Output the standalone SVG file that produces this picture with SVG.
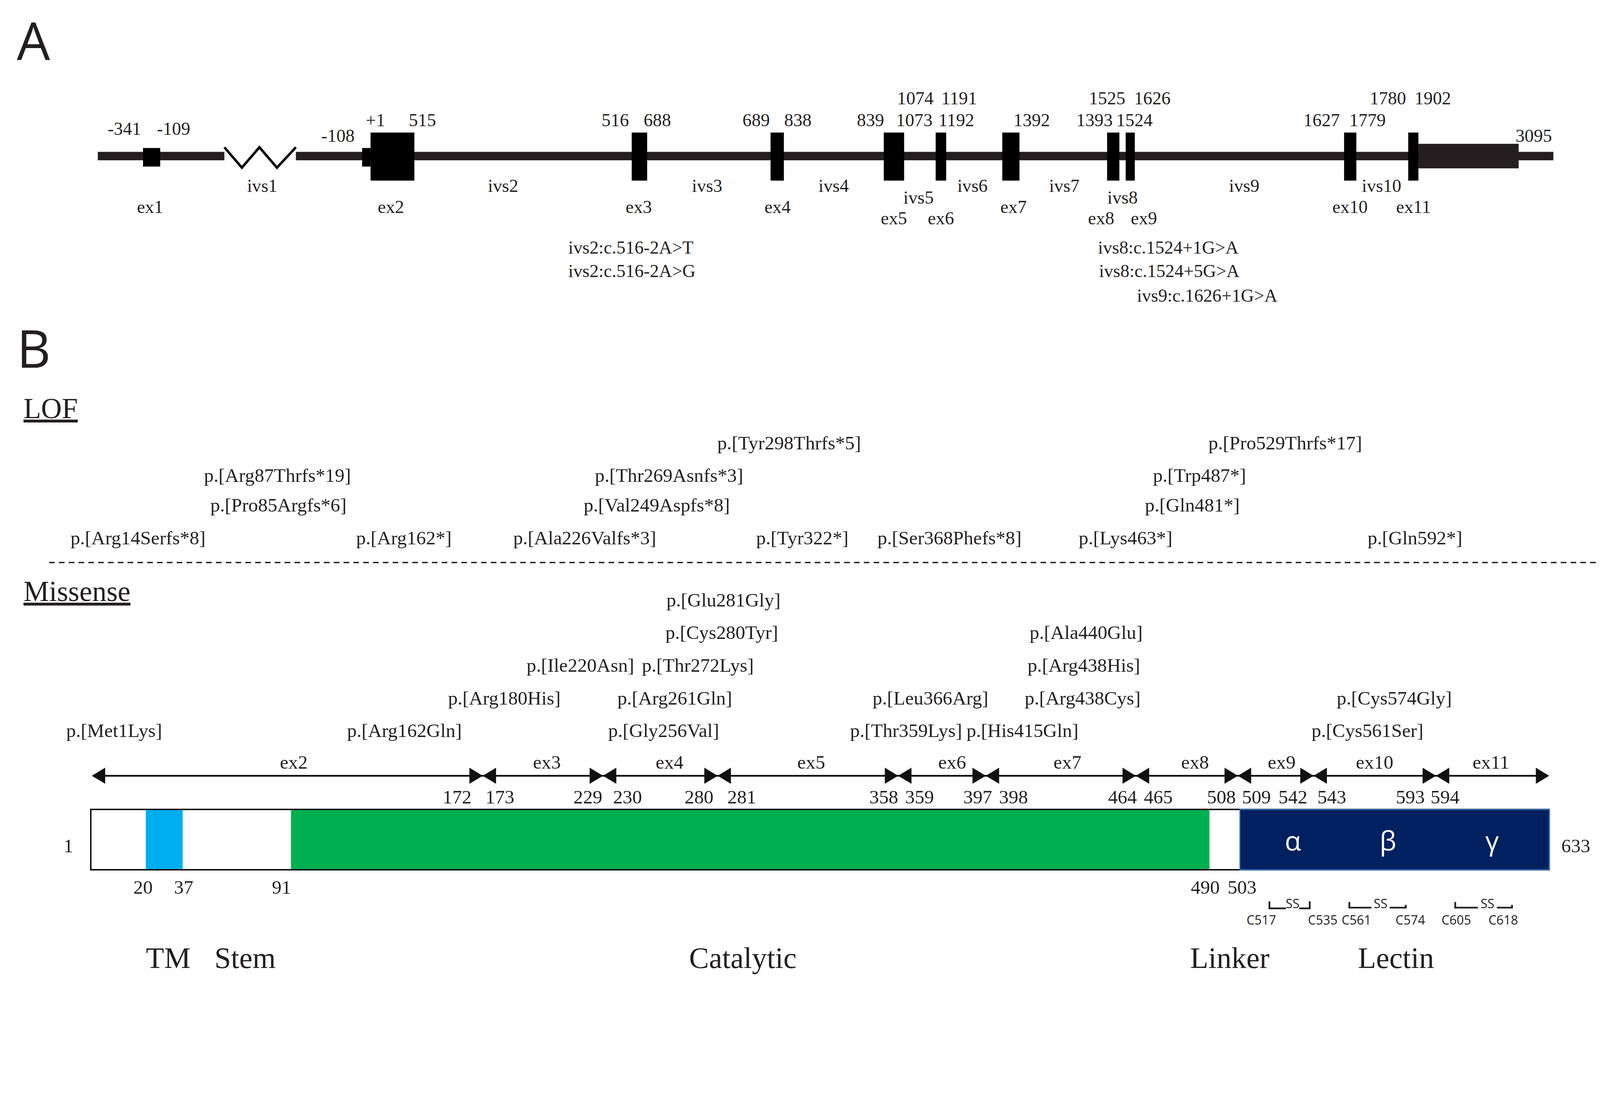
<svg xmlns="http://www.w3.org/2000/svg" width="4564" height="2820" viewBox="0 0 4564 2820" preserveAspectRatio="xMinYMin meet" style="width:100vw;height:100vh;display:block">
<style>
text{font-family:"Liberation Serif","Times New Roman",serif;fill:#231f20}
.n{font-size:52px;text-anchor:middle}
.m{font-size:52px;text-anchor:start}
.l{font-size:55px}
.c{font-size:55px;text-anchor:middle}
.h{font-family:"Open Sans","Liberation Sans",sans-serif;font-size:150px;fill:#231f20}
.u{font-size:82px;text-decoration:underline}
.d{font-size:85px;text-anchor:middle}
.g{font-family:"Open Sans","Liberation Sans",sans-serif;font-size:76px;fill:#fff;text-anchor:middle}
.s{font-family:"Open Sans","Liberation Sans",sans-serif;font-size:36px;text-anchor:middle}
.ex{fill:#000}
</style>
<defs>
<polygon id="tr" points="0,0 -38,-23 -38,23" fill="#111"/>
<polygon id="tl" points="0,0 38,-23 38,23" fill="#111"/>
</defs>
<rect width="4564" height="2820" fill="#fff"/>
<text class="h" x="48" y="170">A</text>
<g id="gene">
<rect x="279" y="433" width="361" height="24" fill="#231f20"/>
<polyline points="640,420 690,478 740,420 790,478 844,420" fill="none" stroke="#000" stroke-width="7"/>
<rect x="844" y="433" width="3587" height="24" fill="#231f20"/>
<rect class="ex" x="408" y="422" width="49" height="53"/>
<rect class="ex" x="1033" y="422" width="24" height="53"/>
<rect class="ex" x="1057" y="378" width="125" height="137"/>
<rect class="ex" x="1802" y="378" width="44" height="137"/>
<rect class="ex" x="2198" y="378" width="38" height="137"/>
<rect class="ex" x="2521" y="378" width="58" height="137"/>
<rect class="ex" x="2669" y="378" width="30" height="137"/>
<rect class="ex" x="2859" y="378" width="49" height="137"/>
<rect class="ex" x="3158" y="378" width="35" height="137"/>
<rect class="ex" x="3211" y="378" width="26" height="137"/>
<rect class="ex" x="3834" y="378" width="35" height="137"/>
<rect class="ex" x="4017" y="378" width="29" height="137"/>
<rect x="4046" y="410" width="286" height="70" fill="#231f20"/>
</g>
<g id="geneLabels">
<text class="n" x="355" y="384">-341</text><text class="n" x="495" y="384">-109</text>
<text class="n" x="964" y="405">-108</text>
<text class="n" x="1071" y="360">+1</text><text class="n" x="1205" y="360">515</text>
<text class="n" x="1755" y="360">516</text><text class="n" x="1875" y="360">688</text>
<text class="n" x="2157" y="360">689</text><text class="n" x="2276" y="360">838</text>
<text class="n" x="2483" y="360">839</text><text class="n" x="2608" y="360">1073</text>
<text class="n" x="2728" y="360">1192</text><text class="n" x="2943" y="360">1392</text>
<text class="n" x="3122" y="360">1393</text><text class="n" x="3236" y="360">1524</text>
<text class="n" x="3770" y="360">1627</text><text class="n" x="3901" y="360">1779</text>
<text class="n" x="2611" y="298">1074</text><text class="n" x="2736" y="298">1191</text>
<text class="n" x="3158" y="298">1525</text><text class="n" x="3287" y="298">1626</text>
<text class="n" x="3959" y="298">1780</text><text class="n" x="4087" y="298">1902</text>
<text class="n" x="4375" y="405">3095</text>
<text class="n" x="748" y="547">ivs1</text><text class="n" x="1435" y="547">ivs2</text>
<text class="n" x="2017" y="547">ivs3</text><text class="n" x="2378" y="547">ivs4</text>
<text class="n" x="2774" y="547">ivs6</text><text class="n" x="3036" y="547">ivs7</text>
<text class="n" x="3549" y="547">ivs9</text><text class="n" x="3941" y="547">ivs10</text>
<text class="n" x="2620" y="580">ivs5</text><text class="n" x="3202" y="580">ivs8</text>
<text class="n" x="428" y="607">ex1</text><text class="n" x="1115" y="607">ex2</text>
<text class="n" x="1822" y="607">ex3</text><text class="n" x="2218" y="607">ex4</text>
<text class="n" x="2891" y="607">ex7</text><text class="n" x="3851" y="607">ex10</text>
<text class="n" x="4032" y="607">ex11</text>
<text class="n" x="2550" y="640">ex5</text><text class="n" x="2684" y="640">ex6</text>
<text class="n" x="3141" y="640">ex8</text><text class="n" x="3263" y="640">ex9</text>
<text class="m" x="1621" y="723">ivs2:c.516-2A&gt;T</text>
<text class="m" x="1621" y="790">ivs2:c.516-2A&gt;G</text>
<text class="m" x="3132" y="723">ivs8:c.1524+1G&gt;A</text>
<text class="m" x="3135" y="790">ivs8:c.1524+5G&gt;A</text>
<text class="m" x="3243" y="860">ivs9:c.1626+1G&gt;A</text>
</g>
<text class="h" x="48" y="1048">B</text>
<text class="u" x="67" y="1192">LOF</text>
<line x1="140" y1="1604" x2="4556" y2="1604" stroke="#231f20" stroke-width="4" stroke-dasharray="16,12"/>
<text class="u" x="67" y="1714">Missense</text>
<g id="lof">
<text class="l" x="2046" y="1281">p.[Tyr298Thrfs*5]</text>
<text class="l" x="3447" y="1281">p.[Pro529Thrfs*17]</text>
<text class="l" x="582" y="1374">p.[Arg87Thrfs*19]</text>
<text class="l" x="1697" y="1374">p.[Thr269Asnfs*3]</text>
<text class="l" x="3289" y="1374">p.[Trp487*]</text>
<text class="l" x="600" y="1459">p.[Pro85Argfs*6]</text>
<text class="l" x="1665" y="1459">p.[Val249Aspfs*8]</text>
<text class="l" x="3266" y="1459">p.[Gln481*]</text>
<text class="l" x="201" y="1552">p.[Arg14Serfs*8]</text>
<text class="l" x="1016" y="1552">p.[Arg162*]</text>
<text class="l" x="1464" y="1552">p.[Ala226Valfs*3]</text>
<text class="l" x="2157" y="1552">p.[Tyr322*]</text>
<text class="l" x="2503" y="1552">p.[Ser368Phefs*8]</text>
<text class="l" x="3077" y="1552">p.[Lys463*]</text>
<text class="l" x="3901" y="1552">p.[Gln592*]</text>
</g>
<g id="missense">
<text class="l" x="1901" y="1729">p.[Glu281Gly]</text>
<text class="l" x="1898" y="1822">p.[Cys280Tyr]</text>
<text class="l" x="2937" y="1822">p.[Ala440Glu]</text>
<text class="l" x="1502" y="1915">p.[Ile220Asn]</text>
<text class="l" x="1831" y="1915">p.[Thr272Lys]</text>
<text class="l" x="2931" y="1915">p.[Arg438His]</text>
<text class="l" x="1278" y="2009">p.[Arg180His]</text>
<text class="l" x="1761" y="2009">p.[Arg261Gln]</text>
<text class="l" x="2489" y="2009">p.[Leu366Arg]</text>
<text class="l" x="2923" y="2009">p.[Arg438Cys]</text>
<text class="l" x="3813" y="2009">p.[Cys574Gly]</text>
<text class="l" x="189" y="2102">p.[Met1Lys]</text>
<text class="l" x="990" y="2102">p.[Arg162Gln]</text>
<text class="l" x="1735" y="2102">p.[Gly256Val]</text>
<text class="l" x="2425" y="2102">p.[Thr359Lys]</text>
<text class="l" x="2757" y="2102">p.[His415Gln]</text>
<text class="l" x="3741" y="2102">p.[Cys561Ser]</text>
</g>
<g id="exonArrows">
<line x1="270" y1="2212" x2="4410" y2="2212" stroke="#111" stroke-width="5"/>
<use href="#tl" x="262" y="2212"/><use href="#tr" x="4419" y="2212"/>
<use href="#tr" x="1377" y="2212"/><use href="#tl" x="1377" y="2212"/>
<use href="#tr" x="1720" y="2212"/><use href="#tl" x="1720" y="2212"/>
<use href="#tr" x="2047" y="2212"/><use href="#tl" x="2047" y="2212"/>
<use href="#tr" x="2562" y="2212"/><use href="#tl" x="2562" y="2212"/>
<use href="#tr" x="2812" y="2212"/><use href="#tl" x="2812" y="2212"/>
<use href="#tr" x="3240" y="2212"/><use href="#tl" x="3240" y="2212"/>
<use href="#tr" x="3531" y="2212"/><use href="#tl" x="3531" y="2212"/>
<use href="#tr" x="3747" y="2212"/><use href="#tl" x="3747" y="2212"/>
<use href="#tr" x="4096" y="2212"/><use href="#tl" x="4096" y="2212"/>
<text class="c" x="838" y="2192">ex2</text><text class="c" x="1560" y="2192">ex3</text>
<text class="c" x="1910" y="2192">ex4</text><text class="c" x="2314" y="2192">ex5</text>
<text class="c" x="2716" y="2192">ex6</text><text class="c" x="3045" y="2192">ex7</text>
<text class="c" x="3409" y="2192">ex8</text><text class="c" x="3656" y="2192">ex9</text>
<text class="c" x="3921" y="2192">ex10</text><text class="c" x="4253" y="2192">ex11</text>
<text class="c" x="1304" y="2291">172</text><text class="c" x="1426" y="2291">173</text>
<text class="c" x="1677" y="2291">229</text><text class="c" x="1790" y="2291">230</text>
<text class="c" x="1994" y="2291">280</text><text class="c" x="2116" y="2291">281</text>
<text class="c" x="2521" y="2291">358</text><text class="c" x="2623" y="2291">359</text>
<text class="c" x="2789" y="2291">397</text><text class="c" x="2891" y="2291">398</text>
<text class="c" x="3202" y="2291">464</text><text class="c" x="3304" y="2291">465</text>
<text class="c" x="3484" y="2291">508</text><text class="c" x="3584" y="2291">509</text>
<text class="c" x="3688" y="2291">542</text><text class="c" x="3799" y="2291">543</text>
<text class="c" x="4023" y="2291">593</text><text class="c" x="4122" y="2291">594</text>
</g>
<g id="protein">
<rect x="259" y="2308" width="4160" height="172" fill="#fff" stroke="#000" stroke-width="4"/>
<rect x="416" y="2310" width="105" height="168" fill="#00aeef"/>
<rect x="830" y="2310" width="2620" height="168" fill="#00b050"/>
<rect x="3537" y="2308" width="882" height="172" fill="#002060" stroke="#2e75b6" stroke-width="3"/>
<text class="g" x="3688" y="2425">α</text>
<text class="g" x="3959" y="2425">β</text>
<text class="g" x="4256" y="2425">γ</text>
<text class="c" x="195" y="2430">1</text>
<text class="c" x="4495" y="2430">633</text>
<text class="c" x="408" y="2548">20</text><text class="c" x="524" y="2548">37</text>
<text class="c" x="803" y="2548">91</text><text class="c" x="3438" y="2548">490</text>
<text class="c" x="3543" y="2548">503</text>
</g>
<g id="ss" fill="none" stroke="#231f20" stroke-width="5">
<path d="M3621,2570 V2590 H3668 M3706,2590 H3736 V2570"/>
<path d="M3849,2572 V2588 H3912 M3964,2588 H4010 V2580"/>
<path d="M4151,2572 V2588 H4216 M4270,2588 H4313 V2580"/>
</g>
<g id="ssLabels">
<text class="s" x="3687" y="2590">SS</text>
<text class="s" x="3938" y="2590">SS</text>
<text class="s" x="4243" y="2590">SS</text>
<text class="s" x="3598" y="2636">C517</text><text class="s" x="3773" y="2636">C535</text>
<text class="s" x="3869" y="2636">C561</text><text class="s" x="4023" y="2636">C574</text>
<text class="s" x="4154" y="2636">C605</text><text class="s" x="4288" y="2636">C618</text>
</g>
<g id="domains">
<text class="d" x="480" y="2760">TM</text>
<text class="d" x="699" y="2760">Stem</text>
<text class="d" x="2119" y="2760">Catalytic</text>
<text class="d" x="3508" y="2760">Linker</text>
<text class="d" x="3982" y="2760">Lectin</text>
</g>
</svg>
